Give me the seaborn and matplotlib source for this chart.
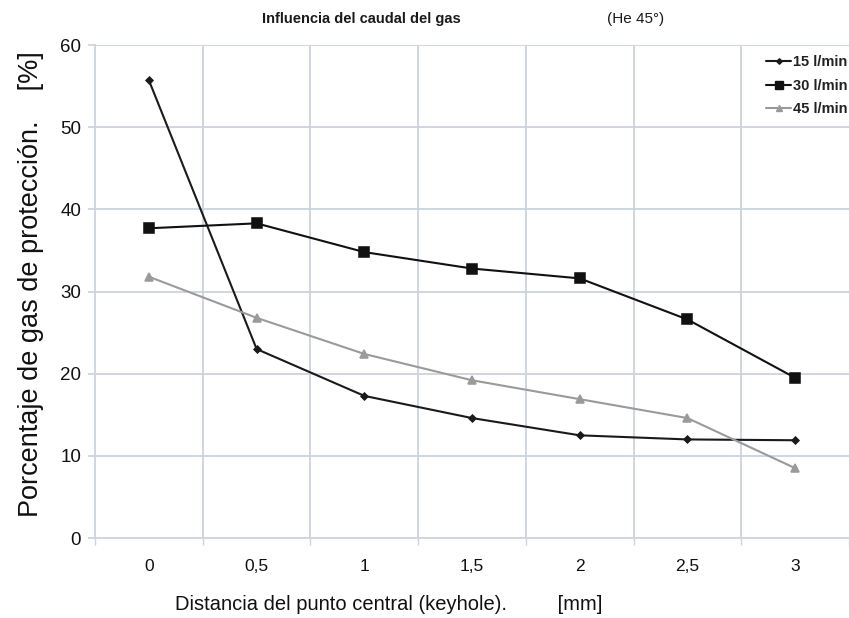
import matplotlib
matplotlib.use("Agg")
import matplotlib.pyplot as plt
from matplotlib.lines import Line2D
from matplotlib.ticker import FixedLocator
import seaborn as sns
import pandas as pd

# Distance from the keyhole centre [mm] and shielding-gas percentage per flow rate
distancias = ["0", "0,5", "1", "1,5", "2", "2,5", "3"]
caudal_15 = [55.7, 23.0, 17.3, 14.6, 12.5, 12.0, 11.9]
caudal_30 = [37.7, 38.3, 34.8, 32.8, 31.6, 26.6, 19.5]
caudal_45 = [31.8, 26.8, 22.4, 19.2, 16.9, 14.6, 8.5]
series = ["15 l/min", "30 l/min", "45 l/min"]

df = pd.concat([
    pd.DataFrame({"distancia": distancias, "porcentaje": vals, "caudal": name})
    for name, vals in zip(series, [caudal_15, caudal_30, caudal_45])
])

sns.set_theme(style="white")
plt.rcParams["font.family"] = ["Liberation Sans", "DejaVu Sans"]

fig = plt.figure(figsize=(8.49, 6.18), dpi=100)
ax = fig.add_axes([0.112, 0.1294, 0.888, 0.7977])

colors = {"15 l/min": "#1a1a1a", "30 l/min": "#111111", "45 l/min": "#9a9a9a"}
markers = {"15 l/min": "D", "30 l/min": "s", "45 l/min": "^"}
msize = {"15 l/min": 3.5, "30 l/min": 7, "45 l/min": 5.5}

for name in series:
    sub = df[df["caudal"] == name]
    sns.pointplot(data=sub, x="distancia", y="porcentaje", order=distancias,
                  color=colors[name], marker=markers[name], markersize=msize[name],
                  linewidth=1.5, errorbar=None, ax=ax, zorder=3)

grid_c = "#ccd3de"
ax.set_xlim(-0.5, 6.5)
ax.set_ylim(0, 60)
ax.set_yticks([0, 10, 20, 30, 40, 50, 60])
ax.xaxis.set_minor_locator(FixedLocator([i + 0.5 for i in range(-1, 7)]))
ax.grid(False)
for v in [10, 20, 30, 40, 50, 60]:
    ax.axhline(v, color=grid_c, lw=1.3, zorder=1)
for b in [i + 0.5 for i in range(0, 6)]:
    ax.axvline(b, color=grid_c, lw=1.3, zorder=1)

for s in ["top", "right"]:
    ax.spines[s].set_visible(False)
for s in ["left", "bottom"]:
    ax.spines[s].set_color(grid_c)
    ax.spines[s].set_linewidth(1.3)

ax.tick_params(axis="y", which="major", left=True, length=5, color=grid_c,
               labelsize=13.5, pad=5, labelcolor="#111111")
ax.tick_params(axis="x", which="major", bottom=False, labelsize=12.5, pad=9,
               labelcolor="#111111")
ax.tick_params(axis="x", which="minor", bottom=True, length=5, color=grid_c)

ax.set_xlabel("")
ax.set_ylabel("Porcentaje de gas de protección.    [%]", fontsize=19.5,
              color="#111111")
ax.yaxis.set_label_coords(-0.068, 0.515)
fig.text(175 / 849, 1 - 605 / 618, "Distancia del punto central (keyhole).         [mm]",
         fontsize=14.5, color="#111111", ha="left", va="center")

handles = [Line2D([], [], color=colors[n], marker=markers[n],
                  markersize=msize[n] * 0.8, lw=1.5) for n in series]
leg = ax.legend(handles, series, loc="upper right", bbox_to_anchor=(1.01, 0.997),
                frameon=False, fontsize=10.5, handlelength=1.7, handletextpad=0.15,
                labelspacing=0.65, borderaxespad=0.2)
for t in leg.get_texts():
    t.set_fontweight("bold")
    t.set_color("#222222")

fig.text(262 / 849, 1 - 19 / 618, "Influencia del caudal del gas", fontsize=10.5,
         fontweight="semibold", color="#1a1a1a", va="center")
fig.text(607 / 849, 1 - 19 / 618, "(He 45°)", fontsize=11, color="#1a1a1a",
         va="center")

fig.savefig("out.png", dpi=100, facecolor="white")
